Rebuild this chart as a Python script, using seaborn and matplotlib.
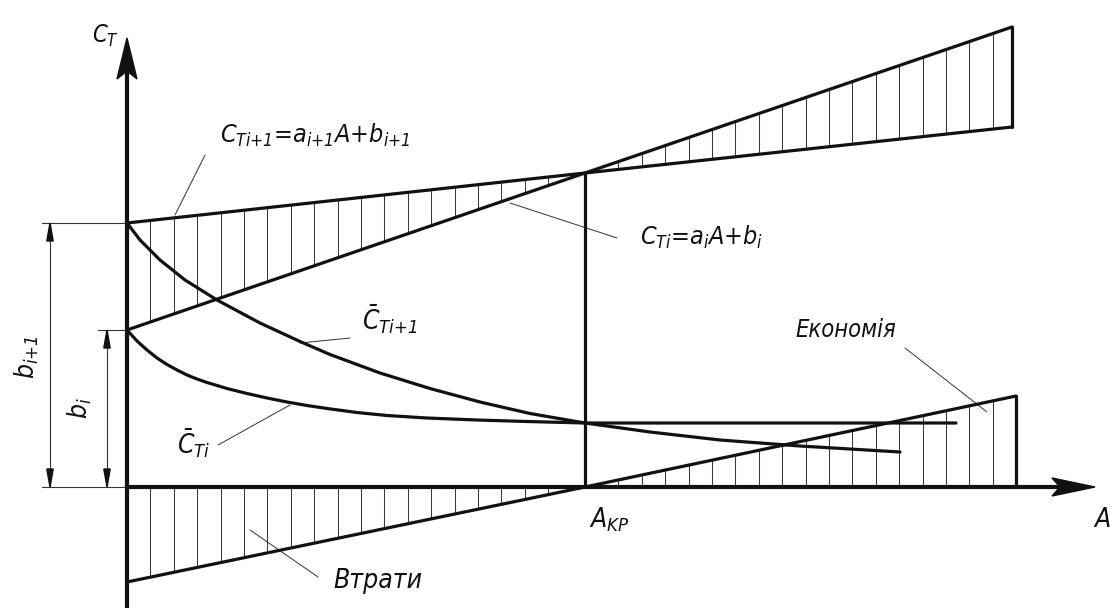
import numpy as np
import pandas as pd
import matplotlib
matplotlib.use("Agg")
import matplotlib.pyplot as plt
from matplotlib import font_manager
from matplotlib.patches import Polygon
import seaborn as sns

# ---------------- data (chart units) ----------------
A_KP = 45.8
b_i = 15.7
b_i1 = 26.4

cti_x = [0.0, 45.8, 88.5]          # C_Ti = a_i A + b_i
cti_y = [15.7, 31.4, 46.0]
cti1_x = [0.0, 45.8, 88.5]         # C_Ti+1 = a_i+1 A + b_i+1
cti1_y = [26.4, 31.4, 36.0]

loss_x = [0.0, 45.8]               # Втрати
loss_y = [-9.5, 0.0]
econ_x = [45.8, 88.9]              # Економія
econ_y = [0.0, 9.1]

avg1_x = [0.0, 1.3, 3.3, 5.8, 9.0, 13.3, 17.3, 20.3, 25.3, 30.3, 35.3, 40.3,
          45.8, 52.3, 59.3, 67.3, 77.3]
avg1_y = [26.4, 24.7, 22.7, 20.7, 18.7, 16.4, 14.55, 13.25, 11.4, 9.85, 8.5,
          7.35, 6.4, 5.5, 4.7, 4.1, 3.5]
avg0_x = [0.0, 1.0, 2.0, 3.0, 4.0, 5.0, 6.0, 7.0, 8.0, 9.0, 10.0, 12.0, 14.0,
          16.0, 18.0, 20.0, 23.0, 26.0, 30.0, 35.0, 40.0, 45.8, 57.3, 82.9]
avg0_y = [15.7, 14.6, 13.7, 12.9, 12.25, 11.7, 11.2, 10.8, 10.45, 10.15, 9.85,
          9.35, 8.9, 8.5, 8.15, 7.85, 7.45, 7.15, 6.9, 6.7, 6.55, 6.4, 6.4, 6.4]

# ---------------- style ----------------
sns.set_theme(style="white")
fl = font_manager.fontManager.ttflist
names = {f.name for f in fl}
if "Liberation Sans Narrow" in names:
    FONT, STRETCH = "Liberation Sans Narrow", "normal"
elif any(f.name == "DejaVu Sans" and f.stretch == "condensed"
         and f.style in ("italic", "oblique") for f in fl):
    FONT, STRETCH = "DejaVu Sans", "condensed"
else:
    FONT, STRETCH = "DejaVu Sans", "normal"
plt.rcParams["font.family"] = [FONT, "DejaVu Sans"]
plt.rcParams["font.stretch"] = STRETCH
plt.rcParams["font.style"] = "italic"
plt.rcParams["mathtext.fontset"] = "custom"
pat = f"{FONT}:italic:stretch={STRETCH}"
plt.rcParams["mathtext.it"] = pat
plt.rcParams["mathtext.rm"] = pat
plt.rcParams["mathtext.bf"] = pat

K = "#111111"
fig = plt.figure(figsize=(11.1, 6.15), dpi=100)
ax = fig.add_axes([0, 0, 1, 1])
ax.set_xlim(-12.7, 98.3)
ax.set_ylim(-12.8, 48.7)
ax.axis("off")

THICK = 2.3
HATCH_LW = 0.75

# ---------------- hatching ----------------
hx = np.arange(2.34, 87.0, 2.34)
for x in hx:
    if x < A_KP:
        top = np.interp(x, cti1_x, cti1_y)
        bot = np.interp(x, cti_x, cti_y)
        ax.plot([x, x], [bot, top], color="#3a3a3a", lw=HATCH_LW, zorder=1)
        lo = np.interp(x, loss_x, loss_y)
        ax.plot([x, x], [lo, 0], color="#3a3a3a", lw=HATCH_LW, zorder=1)
    else:
        top = np.interp(x, cti_x, cti_y)
        bot = np.interp(x, cti1_x, cti1_y)
        ax.plot([x, x], [bot, top], color="#3a3a3a", lw=HATCH_LW, zorder=1)
        hi = np.interp(x, econ_x, econ_y)
        ax.plot([x, x], [0, hi], color="#3a3a3a", lw=HATCH_LW, zorder=1)

# ---------------- main lines ----------------
def line(xs, ys, lw=THICK):
    sns.lineplot(x=xs, y=ys, sort=False, estimator=None, color=K, lw=lw, ax=ax,
                 zorder=3, legend=False)

line(cti_x, cti_y)
line(cti1_x, cti1_y)
line(loss_x, loss_y)
line(econ_x, econ_y)
line(avg1_x, avg1_y)
line(avg0_x, avg0_y)
# closing verticals
line([A_KP, A_KP], [0, cti_y[1]])
line([cti_x[-1], cti_x[-1]], [cti1_y[-1], cti_y[-1]])
line([econ_x[-1], econ_x[-1]], [0, econ_y[-1]])

# ---------------- axes ----------------
ax.plot([0, 0], [-12.1, 41.5], color=K, lw=3.0, zorder=4, solid_capstyle="butt")
ax.plot([0, 93.2], [0, 0], color=K, lw=3.0, zorder=4, solid_capstyle="butt")
ax.add_patch(Polygon([(0, 44.9), (1.0, 40.8), (0, 41.6), (-1.0, 40.8)],
                     closed=True, color=K, zorder=5))
ax.add_patch(Polygon([(96.8, 0), (92.5, 0.9), (93.3, 0), (92.5, -0.9)],
                     closed=True, color=K, zorder=5))

# ---------------- dimension lines ----------------
THIN = 0.8
for yv, x0 in [(b_i1, -8.5), (b_i, -2.9), (0, -8.5)]:
    ax.plot([x0, 0], [yv, yv], color="#333333", lw=THIN, zorder=2)

def dim(x, y0, y1):
    ax.plot([x, x], [y0, y1], color="#333333", lw=THIN, zorder=2)
    L, W = 1.8, 0.32
    ax.add_patch(Polygon([(x, y1), (x - W, y1 - L), (x + W, y1 - L)], color=K, zorder=3))
    ax.add_patch(Polygon([(x, y0), (x - W, y0 + L), (x + W, y0 + L)], color=K, zorder=3))

dim(-7.7, 0, b_i1)
dim(-2.0, 0, b_i)

# ---------------- leaders ----------------
def leader(p0, p1):
    ax.plot([p0[0], p1[0]], [p0[1], p1[1]], color="#333333", lw=0.7, zorder=2)

leader((7.8, 33.2), (4.8, 27.2))
leader((38.3, 28.4), (49.0, 24.9))
leader((17.3, 14.4), (22.3, 14.9))
leader((9.1, 4.2), (16.3, 8.2))
leader((77.8, 13.9), (86.0, 7.5))
leader((12.3, -4.3), (19.1, -9.0))

# ---------------- labels ----------------
FS = 19
tk = dict(color=K, ha="left", va="baseline", fontsize=FS, zorder=6)
ax.text(-3.5, 44.4, r"$C_{T}$", **{**tk, "fontsize": 17})
ax.text(9.3, 34.4, r"$C_{Ti{+}1}$=$a_{i{+}1}$A+$b_{i{+}1}$", **{**tk, "fontsize": 18})
ax.text(51.3, 24.2, r"$C_{Ti}$=$a_{i}$A+$b_{i}$", **{**tk, "fontsize": 18})
ax.text(23.5, 15.7, r"$\bar{C}_{Ti{+}1}$", **tk)
ax.text(5.0, 3.4, r"$\bar{C}_{Ti}$", **tk)
ax.text(-10.0, 13.0, r"$b_{i{+}1}$", color=K, fontsize=FS, rotation=90,
        ha="center", va="center")
ax.text(-4.7, 7.9, r"$b_{i}$", color=K, fontsize=FS, rotation=90,
        ha="center", va="center")
ax.text(66.8, 15.0, "Економія", **{**tk, "fontsize": 17})
ax.text(46.2, -4.0, r"$A_{KP}$", **tk)
ax.text(96.6, -4.0, r"$A$", **tk)
ax.text(20.6, -10.1, "Втрати", **tk)

fig.savefig("out.png", dpi=100, facecolor="white")
